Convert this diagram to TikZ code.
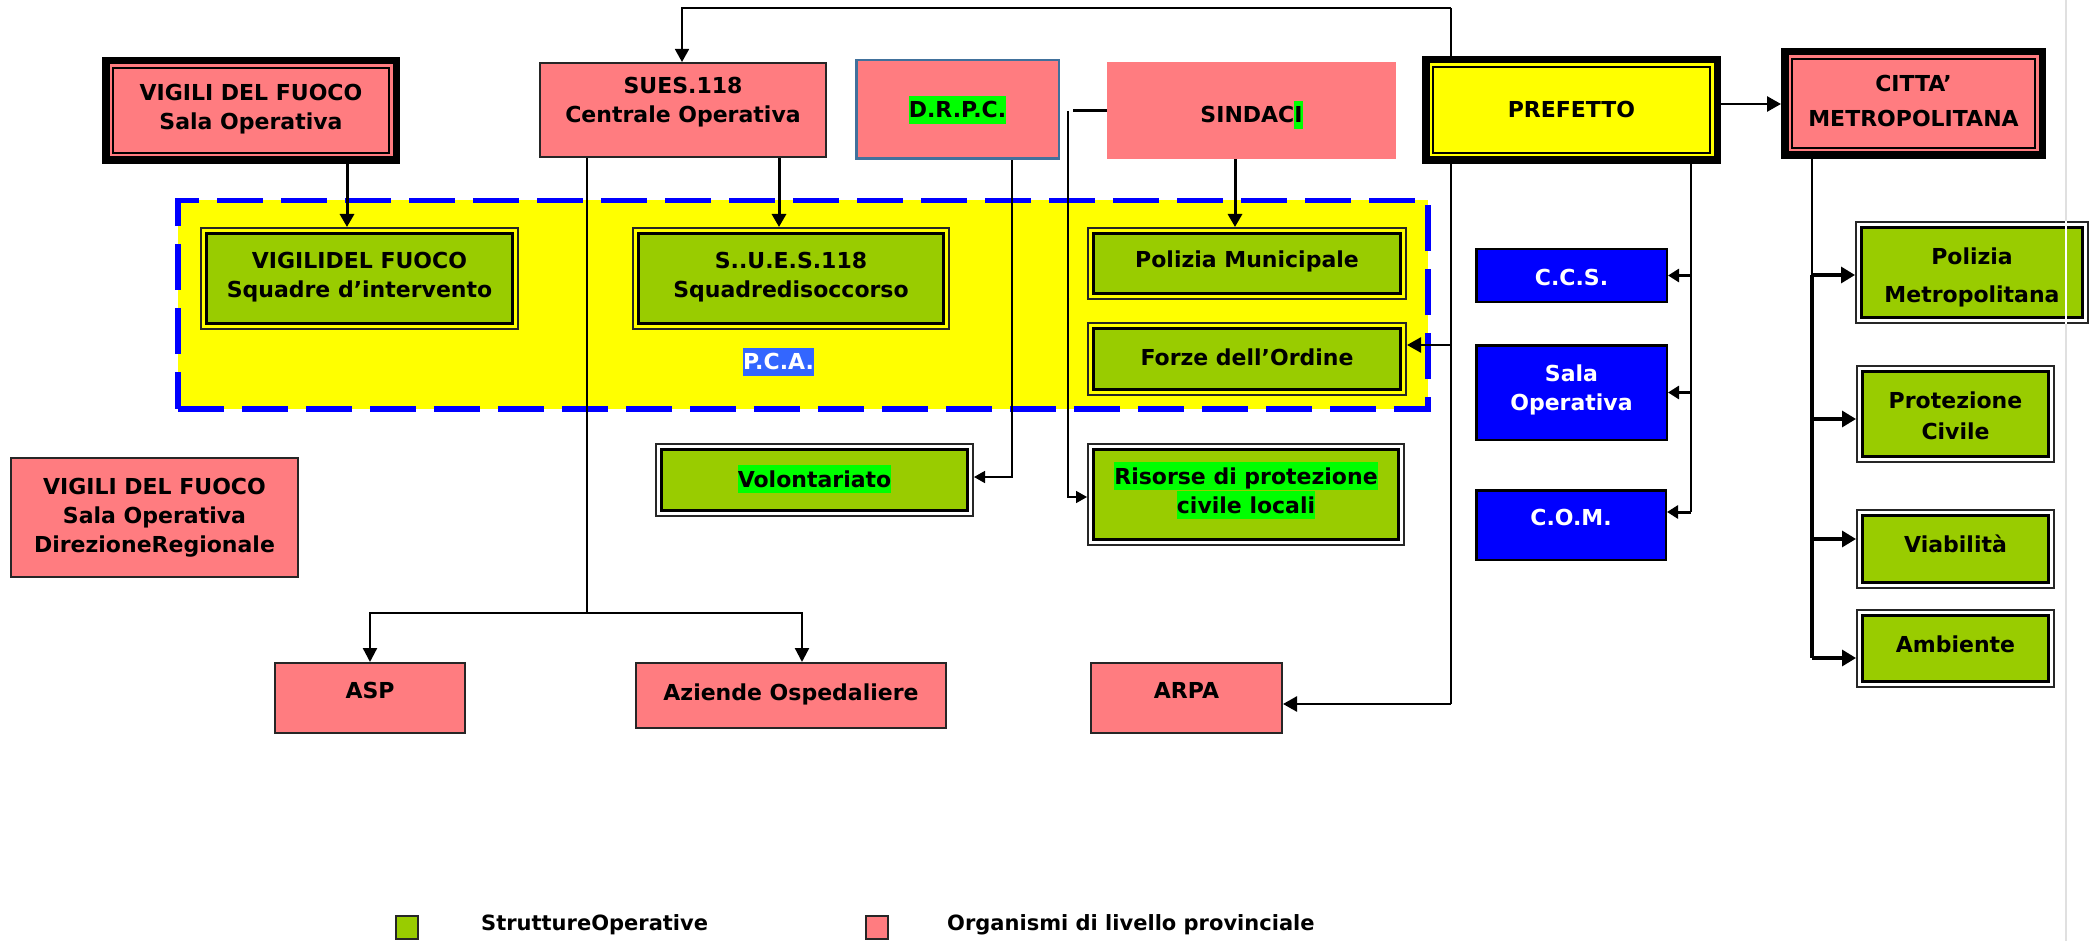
\documentclass[tikz,border=0pt]{standalone}
\usepackage{fontspec}
\setmainfont{DejaVu Sans}
\usetikzlibrary{arrows.meta}
\definecolor{pinkc}{HTML}{FF7C80}
\definecolor{greenc}{HTML}{99CC00}
\definecolor{hlgreen}{HTML}{00FF00}
\definecolor{pcablue}{HTML}{3366FF}
\definecolor{drpcb}{HTML}{41719C}
\definecolor{yel}{HTML}{FFFF00}
\definecolor{blu}{HTML}{0000FF}
\pgfdeclarelayer{back}\pgfdeclarelayer{bg}\pgfsetlayers{back,bg,main}
\newcommand\hl[1]{{\setlength\fboxsep{0pt}\colorbox{hlgreen}{\rule[-6pt]{0pt}{28pt}#1}}}
\newcommand\pcahl[1]{{\setlength\fboxsep{0pt}\colorbox{pcablue}{\rule[-6pt]{0pt}{28pt}\textcolor{white}{#1}}}}
\newcommand\bx[8]{%
  \pgfmathsetmacro\bxw{#6-#4-#2}\pgfmathsetmacro\bxh{#7-#5-#2}%
  \pgfmathsetmacro\bxx{(#4+#6)/2}\pgfmathsetmacro\bxy{(#5+#7)/2}%
  \node[#1, minimum width=\bxw pt, minimum height=\bxh pt] (#3) at (\bxx,\bxy) {#8};}
\tikzset{
  bxbase/.style={inner sep=0pt, font=\fontsize{22}{29}\selectfont\bfseries, align=center},
  bl/.style={text height={\dimexpr #1pt*2\relax}, text depth=0pt},
  tri/.style={bxbase, fill=#1, draw=black, line width=7.5pt,
    path picture={\draw[black, line width=2.5pt]
      ([shift={(7.25pt,-7.25pt)}]path picture bounding box.north west) rectangle
      ([shift={(-7.25pt,7.25pt)}]path picture bounding box.south east);}},
  grn/.style={bxbase, draw=black!85, line width=2pt,
    path picture={\fill[greenc]
      ([shift={(5.5pt,-5.5pt)}]path picture bounding box.north west) rectangle
      ([shift={(-5.5pt,5.5pt)}]path picture bounding box.south east);
      \draw[black, line width=3.5pt]
      ([shift={(5.5pt,-5.5pt)}]path picture bounding box.north west) rectangle
      ([shift={(-5.5pt,5.5pt)}]path picture bounding box.south east);}},
  pnk/.style={bxbase, fill=pinkc, draw=black!85, line width=2pt},
  drpcst/.style={bxbase, fill=pinkc, draw=drpcb, line width=2.5pt},
  sindst/.style={bxbase, fill=pinkc},
  blubox/.style={bxbase, fill=blu, draw=black, line width=2.5pt, text=white},
  legsq/.style={bxbase, fill=#1, draw=black!85, line width=2pt},
  legtxt/.style={inner sep=0pt, font=\fontsize{21}{26}\selectfont\bfseries, anchor=base west},
  ln/.style={draw=black, line width=1.7pt},
  arB/.style={line width=3pt, -{Triangle[length=13pt,width=14pt]}},
  arM/.style={line width=2.7pt, -{Triangle[length=14pt,width=15pt]}},
  arS/.style={line width=1.6pt, -{Triangle[length=11pt,width=12pt]}},
  arA/.style={line width=2.3pt, -{Triangle[length=14pt,width=14pt]}},
  arC/.style={line width=3pt, -{Triangle[length=11pt,width=13pt]}},
  arR/.style={line width=3.3pt, -{Triangle[length=14pt,width=16pt]}},
}
\begin{document}
\begin{tikzpicture}[x=1pt, y=-1pt]
\useasboundingbox (0,0) rectangle (2090,941);
\begin{pgfonlayer}{back}
  \fill[white] (0,0) rectangle (2090,941);
  \node[draw=blu, fill=yel, line width=5.5pt, dash pattern=on 46pt off 18pt,
        minimum width=1250pt, minimum height=208.5pt, inner sep=0pt] (pca) at (803,304.75) {};
\end{pgfonlayer}
% top row
\bx{tri=pinkc, bl=19.5}{7.5}{vfso}{102}{57}{400}{164}{VIGILI DEL FUOCO\\Sala Operativa}
\bx{pnk, bl=13}{2}{sues}{539}{62}{827}{158}{SUES.118\\Centrale Operativa}
\bx{drpcst, bl=8.5}{2.5}{drpc}{855}{59}{1060}{160}{\hl{D.R.P.C.}}
\bx{sindst, bl=12.5}{0}{sind}{1107}{62}{1396}{159}{SINDAC\hl{I}}
\bx{tri=yel, bl=8}{7.5}{pref}{1422}{56}{1721}{164}{PREFETTO}
\bx{tri=pinkc, bl=23.5}{7.5}{citta}{1781}{48}{2046}{159}{CITTA’\\[6pt]METROPOLITANA}
% PCA area
\bx{grn, bl=19.5}{2}{vfsq}{200}{227}{519}{330}{VIGILIDEL FUOCO\\Squadre d’intervento}
\bx{grn, bl=19.5}{2}{suesq}{632}{227}{950}{330}{S..U.E.S.118\\Squadredisoccorso}
\bx{grn, bl=4.5}{2}{pm}{1087}{227}{1407}{300}{Polizia Municipale}
\bx{grn, bl=6}{2}{fo}{1087}{322}{1407}{396}{Forze dell’Ordine}
\node[bxbase] (pcal) at (778.5,361.5) {\pcahl{P.C.A.}};
% middle
\bx{grn, bl=7}{2}{vol}{655}{443}{974}{517}{\hl{Volontariato}}
\bx{grn, bl=18.5}{2}{ris}{1087}{443}{1405}{546}{\hl{Risorse di protezione}\\\hl{civile locali}}
\bx{pnk, bl=34.5}{2}{vfdr}{10}{457}{299}{578}{VIGILI DEL FUOCO\\Sala Operativa\\DirezioneRegionale}
% bottom
\bx{pnk, bl=0}{2}{asp}{274}{662}{466}{734}{ASP}
\bx{pnk, bl=4.5}{2}{azi}{635}{662}{947}{729}{Aziende Ospedaliere}
\bx{pnk, bl=0}{2}{arpa}{1090}{662}{1283}{734}{ARPA}
% blue
\bx{blubox, bl=9.5}{2.5}{ccs}{1475}{248}{1668}{303}{C.C.S.}
\bx{blubox, bl=17.5}{2.5}{sala}{1475}{344}{1668}{441}{Sala\\Operativa}
\bx{blubox, bl=0}{2.5}{com}{1475}{489}{1667}{561}{C.O.M.}
% right column
\bx{grn, bl=29.5}{2}{polm}{1855}{221}{2089}{324}{Polizia\\[9pt]Metropolitana}
\bx{grn, bl=25}{2}{prot}{1856}{365}{2055}{463}{Protezione\\[2pt]Civile}
\bx{grn, bl=3}{2}{via}{1856}{509}{2055}{589}{Viabilità}
\bx{grn, bl=3.5}{2}{amb}{1856}{609}{2055}{688}{Ambiente}
\draw[white, line width=2.5pt] (polm.north -| 2066,0) -- (polm.south -| 2066,0);
% legend
\bx{legsq=greenc}{2}{lg1}{395}{915}{419}{940}{}
\bx{legsq=pinkc}{2}{lg2}{865}{915}{889}{940}{}
\node[legtxt] (lt1) at (481,930) {StruttureOperative};
\node[legtxt] (lt2) at (947,930) {Organismi di livello provinciale};
% connectors
\begin{pgfonlayer}{bg}
  \draw[black!12, line width=2.5pt] (2066,0) -- (2066,941);
  \draw[arB] (vfso.south -| 347,0) -- (vfsq.north -| 347,0);
  \draw[arB] (sues.south -| 779,0) -- (suesq.north -| 779,0);
  \draw[arB] (sind.south -| 1235,0) -- (pm.north -| 1235,0);
  \coordinate (tl) at (1451,8);
  \coordinate (tb) at (1451,704);
  \coordinate (fj) at (1451,345);
  \draw[ln, -{Triangle[length=13pt,width=14pt]}] (tl) -| (sues.north -| 682,0);
  \draw[ln] (tl) -- (tb);
  \draw[arM] (tb) -- (arpa.east |- tb);
  \draw[arM] (fj) -- (fo.east |- fj);
  \coordinate (dj) at (1012,477);
  \draw[arS] (drpc.south -| dj) |- (vol.east |- dj);
  \draw[line width=3pt] (sind.west) -- ++(-34,0);
  \coordinate (rj) at (1068,111);
  \coordinate (rk) at (1068,497);
  \draw[arS] (rj) |- (ris.west |- rk);
  \coordinate (sj) at (587,613);
  \draw[ln] (sues.south -| sj) -- (sj);
  \draw[arA] (sj) -| (asp.north);
  \draw[arA] (sj) -| (azi.north -| 802,0);
  \coordinate (pj) at (1691,512);
  \draw[ln] (pref.south -| pj) -- (pj);
  \draw[arC] (ccs.east -| pj) -- (ccs.east);
  \draw[arC] (sala.east -| pj) -- (sala.east);
  \draw[arC] (pj) -- (com.east |- pj);
  \coordinate (cj) at (1721,104);
  \draw[arM] (pref.east |- cj) -- (citta.west |- cj);
  \coordinate (c1) at (1812,275);
  \coordinate (c2) at (1812,419);
  \coordinate (c3) at (1812,539);
  \coordinate (c4) at (1812,658);
  \draw[ln] (citta.south -| c1) -- (c1);
  \draw[line width=3.3pt] (c1) -- (c4);
  \draw[arR] (c1) -- (polm.west |- c1);
  \draw[arR] (c2) -- (prot.west |- c2);
  \draw[arR] (c3) -- (via.west |- c3);
  \draw[arR] (c4) -- (amb.west |- c4);
\end{pgfonlayer}
\end{tikzpicture}
\end{document}
